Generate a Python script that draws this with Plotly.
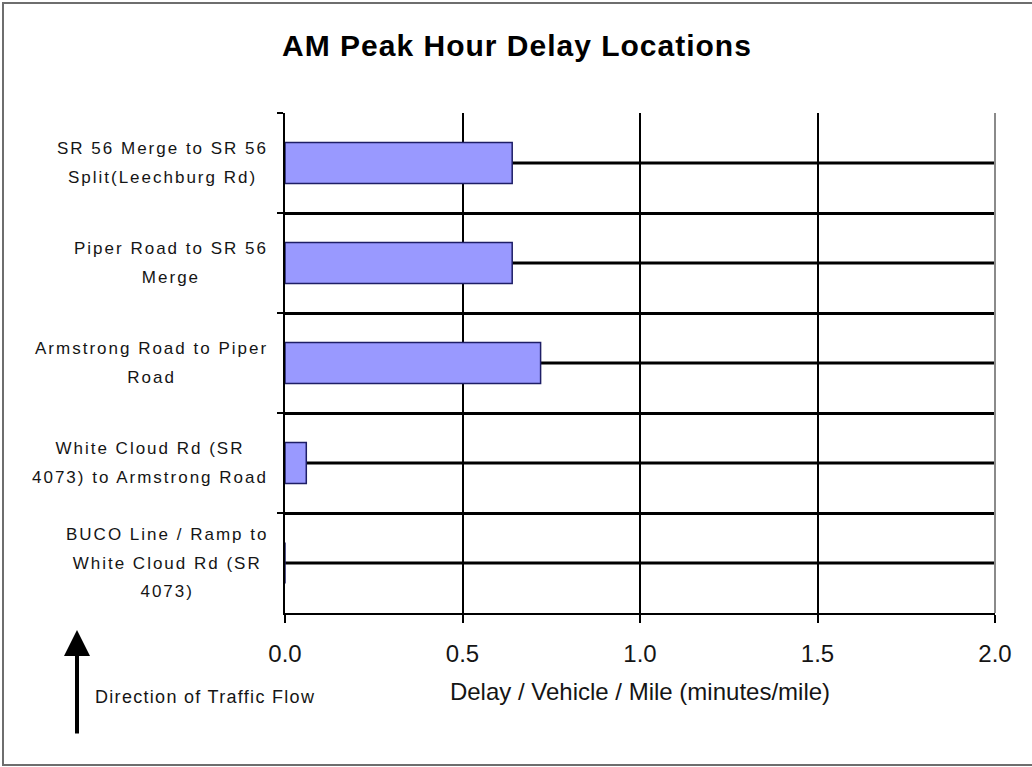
import plotly.graph_objects as go

# ---- data ----
categories = [
    "SR 56 Merge to SR 56|Split(Leechburg Rd)",
    "Piper Road to SR 56|Merge",
    "Armstrong Road to Piper|Road",
    "White Cloud Rd (SR|4073) to Armstrong Road",
    "BUCO Line / Ramp to|White Cloud Rd (SR|4073)",
]
delay_values = [0.64, 0.64, 0.72, 0.06, 0.0]
x_tick_values = [0.0, 0.5, 1.0, 1.5, 2.0]

title_text = "AM Peak Hour Delay Locations"
x_title = "Delay / Vehicle / Mile (minutes/mile)"
flow_text = "Direction of Traffic Flow"

# ---- layout geometry (pixels) ----
W, H = 1032, 767
L, R, T, B = 285, 37, 113, 154
PW, PH = W - L - R, H - T - B


def px_x(x):
    return (x - L) / PW


def px_y(y):
    return (H - B - y) / PH


FONT = "Liberation Sans, Arial, sans-serif"

fig = go.Figure()
fig.add_trace(go.Bar(
    y=categories,
    x=delay_values,
    orientation="h",
    width=0.41,
    marker=dict(color="#9999ff", line=dict(color="#1e1e66", width=1.5)),
    showlegend=False,
    hoverinfo="x+y",
))

shapes = []
# lines through category centres
for c in categories:
    shapes.append(dict(type="line", xref="x domain", yref="y", x0=0, x1=1, y0=c, y1=c,
                       line=dict(color="black", width=3), layer="below"))
# gray right edge of plot area
shapes.append(dict(type="line", xref="x domain", yref="y domain", x0=1, x1=1, y0=0, y1=1,
                   line=dict(color="#8a8a8a", width=2), layer="above"))
# outer frame
shapes.append(dict(type="rect", xref="paper", yref="paper",
                   x0=px_x(3), x1=px_x(W + 10), y0=px_y(765), y1=px_y(3),
                   line=dict(color="#6e6e6e", width=2), layer="below"))

annotations = []
for c in categories:
    lines = c.split("|")
    txt = "<br>".join(
        f'<span style="font-size:17px;letter-spacing:2px">{ln}</span>' for ln in lines)
    annotations.append(dict(
        text=txt, xref="paper", yref="y", x=px_x(270), y=c,
        xanchor="right", yanchor="middle", align="center", showarrow=False,
        font=dict(family=FONT, size=22, color="#151515"), yshift=0,
    ))

annotations.append(dict(
    text=f'<span style="letter-spacing:1.3px">{flow_text}</span>',
    xref="paper", yref="paper", x=px_x(93), y=px_y(697),
    xanchor="left", yanchor="middle", showarrow=False,
    font=dict(family=FONT, size=18, color="#151515"),
))
# traffic direction arrow
annotations.append(dict(
    text="", xref="paper", yref="paper", x=px_x(77), y=px_y(630),
    ax=0, ay=105, showarrow=True, arrowhead=2, arrowwidth=4, arrowsize=1.3,
    arrowcolor="black", standoff=0,
))

fig.update_layout(
    width=W, height=H,
    margin=dict(l=L, r=R, t=T, b=B),
    paper_bgcolor="white", plot_bgcolor="white",
    title=dict(text=f'<b><span style="letter-spacing:1px">{title_text}</span></b>',
               x=517 / W, xref="container", xanchor="center",
               y=1 - 45 / H, yref="container", yanchor="middle",
               font=dict(family=FONT, size=30, color="black")),
    font=dict(family=FONT, color="#151515"),
    shapes=shapes,
    annotations=annotations,
    bargap=0.59,
)

fig.update_xaxes(
    range=[0, 2], tickvals=x_tick_values, tickformat=".1f",
    showgrid=True, gridcolor="black", gridwidth=2, zeroline=False,
    showline=True, linecolor="black", linewidth=2,
    ticks="outside", ticklen=8, tickwidth=2, tickcolor="black",
    tickfont=dict(family=FONT, size=24, color="#151515"),
    ticklabelstandoff=10,
    title=dict(text=x_title, font=dict(family=FONT, size=24, color="#151515"), standoff=17),
    fixedrange=True,
)
fig.update_yaxes(
    type="category", categoryorder="array", categoryarray=categories,
    autorange="reversed", tickson="boundaries",
    showgrid=True, gridcolor="black", gridwidth=3,
    showline=True, linecolor="black", linewidth=2,
    ticks="outside", ticklen=6, tickwidth=2, tickcolor="black",
    showticklabels=False, fixedrange=True,
)

fig.write_html("out.html", config={"displayModeBar": False},
               post_script="document.body.style.margin='0';")
